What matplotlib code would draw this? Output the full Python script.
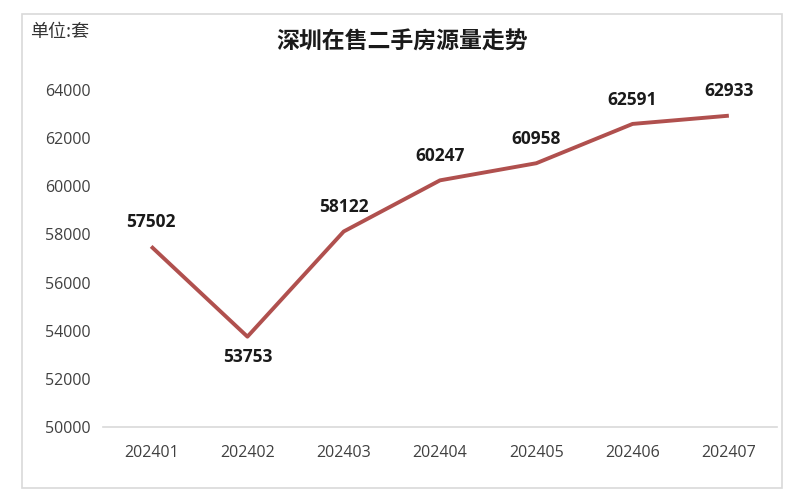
import matplotlib
matplotlib.use("Agg")
import matplotlib.pyplot as plt
from matplotlib.patches import Rectangle

plt.rcParams['font.family'] = ['Noto Sans CJK SC', 'DejaVu Sans']

months = ["202401", "202402", "202403", "202404", "202405", "202406", "202407"]
listings = [57502, 53753, 58122, 60247, 60958, 62591, 62933]
label_below = [False, True, False, False, False, False, False]
yticks = [50000, 52000, 54000, 56000, 58000, 60000, 62000, 64000]

W, H = 802, 500
fig = plt.figure(figsize=(W / 100, H / 100), dpi=100)
fig.patch.set_facecolor("white")

# outer border
fig.patches.append(Rectangle((22 / W, 1 - 488 / H), (782 - 22) / W, (488 - 14) / H,
                             transform=fig.transFigure, fill=False,
                             edgecolor="#d9d9d9", linewidth=1.2))

left, right = 103 / W, 777 / W
bottom, top = 1 - 427 / H, 1 - 90 / H
ax = fig.add_axes([left, bottom, right - left, top - bottom])
x = list(range(len(months)))
ax.plot(x, listings, color="#b0504e", linewidth=2.8, solid_capstyle="butt", clip_on=False)
ax.set_xlim(-0.5, len(months) - 0.5)
ax.set_ylim(50000, 64000)
ax.set_yticks(yticks)
ax.set_yticklabels([str(v) for v in yticks], fontsize=11.5, color="#404040",
                   family=["Open Sans", "DejaVu Sans"])
ax.set_xticks(x)
ax.set_xticklabels(months, fontsize=11.5, color="#404040", family=["Open Sans", "DejaVu Sans"])
ax.tick_params(axis="both", length=0)
ax.tick_params(axis="y", pad=9)
ax.tick_params(axis="x", pad=13)
for s in ["top", "right", "left"]:
    ax.spines[s].set_visible(False)
ax.spines["bottom"].set_color("#d9d9d9")
ax.spines["bottom"].set_linewidth(1.2)

for xi, v, below in zip(x, listings, label_below):
    if below:
        ax.annotate(str(v), (xi, v), xytext=(0, -8), textcoords="offset points",
                    ha="center", va="top", fontsize=12.5, fontweight="bold", color="#1a1a1a",
                    family=["Open Sans", "DejaVu Sans"], annotation_clip=False)
    else:
        ax.annotate(str(v), (xi, v), xytext=(0, 11), textcoords="offset points",
                    ha="center", va="bottom", fontsize=12.5, fontweight="bold", color="#1a1a1a",
                    family=["Open Sans", "DejaVu Sans"], annotation_clip=False)

fig.text(402 / W, 1 - 42 / H, "深圳在售二手房源量走势", ha="center", va="center",
         fontsize=16.5, fontweight="bold", color="#1a1a1a")
fig.text(30 / W, 1 - 32 / H, "单位:套", ha="left", va="center", fontsize=13, color="#333333")

fig.savefig("out.png", dpi=100, facecolor="white")
